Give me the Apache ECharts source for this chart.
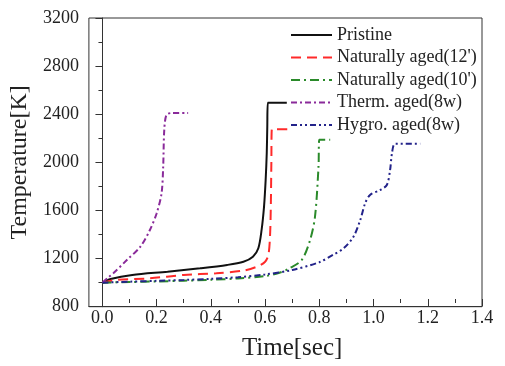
<!DOCTYPE html>
<html><head><meta charset="utf-8">
<script src="https://cdn.jsdelivr.net/npm/echarts@6/dist/echarts.min.js"></script>
<style>html,body{margin:0;padding:0;background:#fff}#c{width:505px;height:366px}</style>
</head><body><div id="c"></div>
<script>
var seriesNames = ['Pristine', "Naturally aged(12')", "Naturally aged(10')", 'Therm. aged(8w)', 'Hygro. aged(8w)'];
var xTicks = [0, 0.2, 0.4, 0.6, 0.8, 1.0, 1.2, 1.4];
var yTicks = [800, 1200, 1600, 2000, 2400, 2800, 3200];

var pristineT = [0, 0.03, 0.11, 0.24, 0.36, 0.46, 0.52, 0.555, 0.575, 0.587, 0.596, 0.602, 0.606, 0.608, 0.61, 0.68];
var pristineK = [1000, 1030, 1064, 1091, 1119, 1147, 1174, 1216, 1286, 1438, 1632, 1854, 2076, 2297, 2495, 2495];

var nat12T = [0, 0.05, 0.175, 0.3, 0.42, 0.52, 0.57, 0.6, 0.612, 0.618, 0.621, 0.623, 0.625, 0.693];
var nat12K = [1000, 1022, 1036, 1064, 1078, 1100, 1133, 1174, 1230, 1382, 1632, 1992, 2275, 2275];

var nat10T = [0, 0.1, 0.2, 0.3, 0.4, 0.5, 0.6, 0.65, 0.69, 0.735, 0.766, 0.784, 0.797, 0.8, 0.84];
var nat10K = [1000, 1005, 1010, 1016, 1024, 1035, 1055, 1080, 1119, 1188, 1355, 1548, 1964, 2188, 2188];

var thermT = [0, 0.02, 0.04, 0.09, 0.14, 0.175, 0.2, 0.218, 0.224, 0.228, 0.236, 0.255, 0.316];
var thermK = [1000, 1040, 1078, 1188, 1299, 1438, 1577, 1743, 1964, 2269, 2394, 2410, 2410];

var hygroT = [0, 0.1, 0.2, 0.3, 0.4, 0.5, 0.6, 0.7, 0.8, 0.85, 0.89, 0.926, 0.951, 0.969, 0.987, 1.024, 1.049, 1.061, 1.068, 1.08, 1.172];
var hygroK = [1000, 1008, 1015, 1022, 1032, 1045, 1068, 1105, 1170, 1230, 1286, 1382, 1521, 1660, 1729, 1770, 1812, 1937, 2076, 2155, 2155];

var xs = [pristineT, nat12T, nat10T, thermT, hygroT];
var ys = [pristineK, nat12K, nat10K, thermK, hygroK];
var colors = ['#111111', '#ff2a2a', '#2a8a2a', '#8a2a9a', '#23238a'];
var dashes = ['solid', [10, 6], [9, 4, 2, 4], [6, 3, 2, 3], [6, 3, 2, 3, 2, 3]];

function zip(a, b) { return a.map(function (v, i) { return [v, b[i]]; }); }

var FONT = '"Liberation Serif", "DejaVu Serif", serif';
var L = 88.7, R = 482, TOP = 18, BOT = 306.7;
var xMin = -0.05, xMax = 1.4;
var L2 = L + (0 - xMin) * (R - L) / (xMax - xMin);

var chart = echarts.init(document.getElementById('c'), null, {renderer: 'canvas'});
chart.setOption({
  animation: false,
  backgroundColor: '#ffffff',
  textStyle: {fontFamily: FONT},
  grid: [
    {left: L, width: R - L, top: TOP, height: BOT - TOP, show: true, borderColor: '#333', borderWidth: 1},
    {left: L2, width: R - L2, top: TOP, height: BOT - TOP, show: false}
  ],
  legend: {
    orient: 'vertical', left: 290, top: 26, padding: 0,
    itemWidth: 41, itemHeight: 18, itemGap: 4.5,
    itemStyle: {opacity: 0},
    textStyle: {fontFamily: FONT, fontSize: 18, color: '#222', lineHeight: 18},
    data: seriesNames
  },
  xAxis: [
    {gridIndex: 0, type: 'value', min: xMin, max: xMax, axisLine: {show: true, lineStyle: {color: '#333'}},
     axisTick: {show: false}, axisLabel: {show: false}, splitLine: {show: false}},
    {gridIndex: 1, type: 'value', min: xTicks[0], max: xTicks[xTicks.length - 1], interval: xTicks[1] - xTicks[0],
     axisLine: {show: false}, axisTick: {show: true, length: 7, lineStyle: {color: '#333'}},
     minorTick: {show: true, splitNumber: 2, length: 4, lineStyle: {color: '#333'}},
     axisLabel: {margin: 10, fontFamily: FONT, fontSize: 18, color: '#222', formatter: function (v) { return v.toFixed(1); }},
     splitLine: {show: false},
     name: 'Time[sec]', nameLocation: 'middle', nameGap: 37,
     nameTextStyle: {fontFamily: FONT, fontSize: 25, color: '#222'}}
  ],
  yAxis: [
    {gridIndex: 0, type: 'value', min: yTicks[0], max: yTicks[yTicks.length - 1], interval: yTicks[1] - yTicks[0],
     axisLine: {show: true, lineStyle: {color: '#333'}},
     axisTick: {show: true, length: 7, lineStyle: {color: '#333'}},
     minorTick: {show: true, splitNumber: 2, length: 4, lineStyle: {color: '#333'}},
     axisLabel: {margin: 10, fontFamily: FONT, fontSize: 18, color: '#222', formatter: function (v) { return String(v); }},
     splitLine: {show: false},
     name: 'Temperature[K]', nameLocation: 'middle', nameGap: 56, nameRotate: 90,
     nameTextStyle: {fontFamily: FONT, fontSize: 24, color: '#222'}},
    {gridIndex: 1, type: 'value', min: yTicks[0], max: yTicks[yTicks.length - 1], show: false}
  ],
  series: seriesNames.map(function (n, i) {
    return {
      name: n, type: 'line', xAxisIndex: 0, yAxisIndex: 0,
      data: zip(xs[i], ys[i]), smooth: 0.3, showSymbol: false, symbol: 'none',
      itemStyle: {color: colors[i]},
      lineStyle: {color: colors[i], width: 2, type: dashes[i]}
    };
  })
});
</script></body></html>
